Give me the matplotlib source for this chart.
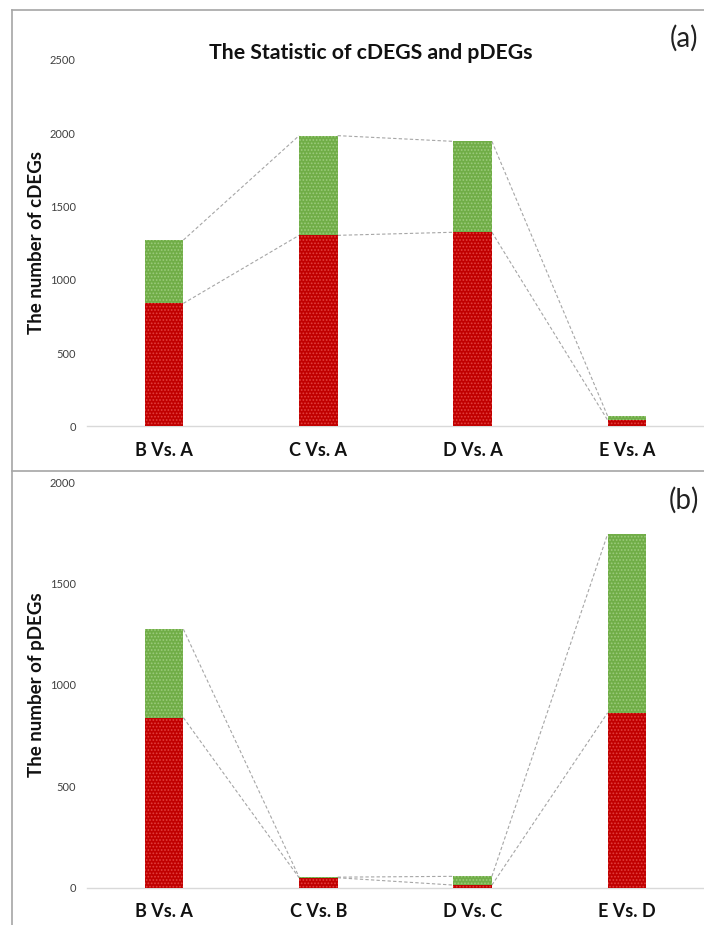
import numpy as np
import matplotlib
matplotlib.use('Agg')
from matplotlib import pyplot as plt
from matplotlib.lines import Line2D

plt.rcParams['font.family'] = ['Lato', 'DejaVu Sans']
plt.rcParams['hatch.linewidth'] = 0.8

# panel (a): cDEGs
cats_a = ['B Vs. A', 'C Vs. A', 'D Vs. A', 'E Vs. A']
red_a = [840, 1304, 1325, 44]
green_a = [432, 680, 620, 28]
# panel (b): pDEGs
cats_b = ['B Vs. A', 'C Vs. B', 'D Vs. C', 'E Vs. D']
red_b = [838, 49, 13, 862]
green_b = [436, 3, 43, 881]

W, H = 704, 925
fig = plt.figure(figsize=(W/100, H/100), dpi=100)

RED = '#c00000'
RED_H = '#e2403f'
GREEN = '#70ad47'
GREEN_H = '#9ccb7c'
bw = 0.25


def panel(rect, cats, red, green, ymax, step, ylabel, ylab_y):
    ax = fig.add_axes(rect)
    x = np.arange(len(cats))
    red = np.array(red)
    tot = red + np.array(green)
    ax.bar(x, red, width=bw, color=RED, edgecolor=RED_H, linewidth=0, hatch='.....', zorder=3)
    ax.bar(x, green, bottom=red, width=bw, color=GREEN, edgecolor=GREEN_H, linewidth=0,
           hatch='.....', zorder=3)
    # dashed connectors between neighbouring bars
    for i in range(len(cats) - 1):
        for v in (red, tot):
            ax.plot([x[i] + bw/2, x[i+1] - bw/2], [v[i], v[i+1]], color='#a6a6a6',
                    lw=0.8, ls=(0, (3, 2)), zorder=2)
    ax.set_xlim(-0.5, len(cats) - 0.5)
    ax.set_ylim(0, ymax)
    ax.set_yticks(np.arange(0, ymax + 1, step))
    ax.set_xticks(x)
    ax.set_xticklabels(cats, fontsize=13, fontweight='bold', color='#111111')
    for s in ('top', 'right', 'left'):
        ax.spines[s].set_visible(False)
    ax.spines['bottom'].set_color('#d9d9d9')
    ax.spines['bottom'].set_linewidth(1.0)
    ax.tick_params(axis='y', length=0, pad=8, labelsize=8, labelcolor='#404040')
    ax.tick_params(axis='x', length=0, pad=11)
    ax.patch.set_alpha(0)
    fig.text(37/W, 1 - ylab_y/H, ylabel, rotation=90, ha='center', va='center',
             fontsize=13.5, fontweight='bold', color='#111111')
    return ax


panel([87/W, (H - 426.5)/H, (W - 87)/W, 366.5/H], cats_a, red_a, green_a, 2500, 500,
      'The number of cDEGs', 243)
panel([87/W, (H - 887.7)/H, (W - 87)/W, 405.7/H], cats_b, red_b, green_b, 2000, 500,
      'The number of pDEGs', 685)

fig.text(371/W, 1 - 53/H, 'The Statistic of cDEGS and pDEGs', ha='center', va='center',
         fontsize=15.3, fontweight='bold', color='#111111')
fig.text(684/W, 1 - 38/H, '(a)', ha='center', va='center', fontsize=20, color='#222222')
fig.text(684/W, 1 - 500/H, '(b)', ha='center', va='center', fontsize=20, color='#222222')

# panel frames
bc = '#a6a6a6'
fig.add_artist(Line2D([12/W, 1], [1 - 10/H, 1 - 10/H], color=bc, lw=1.2))
fig.add_artist(Line2D([12/W, 12/W], [0, 1 - 10/H], color=bc, lw=1.2))
fig.add_artist(Line2D([12/W, 1], [1 - 470.5/H, 1 - 470.5/H], color=bc, lw=1.2))

fig.savefig('out.png', dpi=100, facecolor='white')
